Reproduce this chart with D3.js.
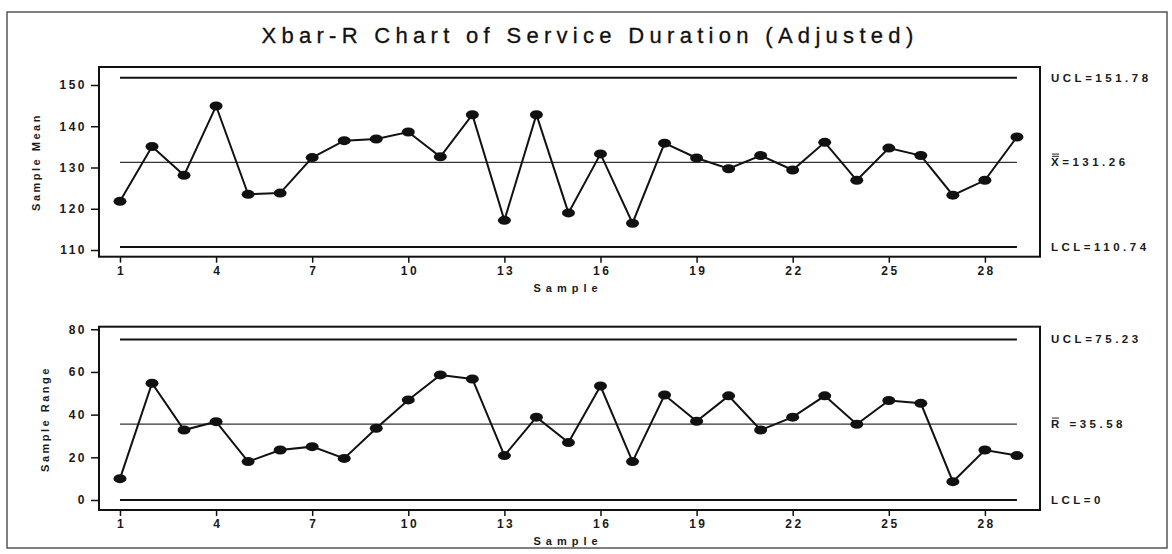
<!DOCTYPE html>
<html>
<head>
<meta charset="utf-8">
<script src="https://cdn.jsdelivr.net/npm/d3@7"></script>
<style>
  body { margin: 0; background: #fff; }
  text { font-family: "Liberation Sans", Arial, sans-serif; fill: #1a1a1a; }
  .tick text { font-size: 12px; font-weight: bold; letter-spacing: 2.5px; }
  .tick line { stroke: #111; stroke-width: 1.5; }
</style>
</head>
<body>
<div id="chart"></div>
<script>
// sample means and ranges
const sampleMeans = [121.8, 135.1, 128.1, 144.9, 123.5, 123.8, 132.4, 136.5, 136.9, 138.6,
                     132.6, 142.8, 117.2, 142.8, 119.0, 133.3, 116.5, 135.9, 132.3, 129.7,
                     132.9, 129.4, 136.1, 126.9, 134.7, 132.9, 123.3, 126.9, 137.4];
const sampleRanges = [10.0, 54.7, 32.8, 36.7, 18.0, 23.4, 25.0, 19.5, 33.6, 46.9,
                      58.6, 56.7, 20.8, 38.8, 26.9, 53.4, 18.0, 49.2, 36.9, 48.8,
                      32.8, 38.8, 48.8, 35.5, 46.6, 45.3, 8.6, 23.4, 20.8];
const xTicks = [1, 4, 7, 10, 13, 16, 19, 22, 25, 28];
const meanTicks = [110, 120, 130, 140, 150];
const rangeTicks = [0, 20, 40, 60, 80];
const meanLimits = [151.78, 131.26, 110.74];   // UCL, center, LCL
const rangeLimits = [75.23, 35.58, 0];
const meanLabels = ['UCL=151.78', 'X=131.26', 'LCL=110.74'];
const rangeLabels = ['UCL=75.23', 'R =35.58', 'LCL=0'];

const width = 1172, height = 554;
const boxLeft = 99, boxRight = 1040;

const svg = d3.select('#chart').append('svg')
    .attr('width', width)
    .attr('height', height);

// outer frame
svg.append('rect')
    .attr('x', 7).attr('y', 12)
    .attr('width', 1160).attr('height', 536)
    .attr('fill', 'none')
    .attr('stroke', '#555')
    .attr('stroke-width', 1.5);

svg.append('text')
    .attr('x', 590).attr('y', 43)
    .attr('text-anchor', 'middle')
    .style('font-size', '22px')
    .style('letter-spacing', '5.3px')
    .style('fill', '#111')
    .style('stroke', '#111').style('stroke-width', 0.3)
    .text('Xbar-R Chart of Service Duration (Adjusted)');

const x = d3.scaleLinear()
    .domain([0.345, 29.72])
    .range([boxLeft, boxRight]);

function drawPanel(opts) {
    const y = d3.scaleLinear().domain(opts.domain).range([opts.bottom, opts.top]);
    const g = svg.append('g');

    // control limit lines
    g.selectAll('.limit')
        .data(opts.limits).enter()
        .append('line')
        .attr('x1', x(1)).attr('x2', x(29))
        .attr('y1', d => y(d)).attr('y2', d => y(d))
        .attr('stroke', (d, i) => i === 1 ? '#333' : '#111')
        .attr('stroke-width', (d, i) => i === 1 ? 1.3 : 2);

    const line = d3.line()
        .x((d, i) => x(i + 1))
        .y(d => y(d));

    g.append('path')
        .datum(opts.values)
        .attr('d', line)
        .attr('fill', 'none')
        .attr('stroke', '#111')
        .attr('stroke-width', 2);

    g.selectAll('.pt')
        .data(opts.values).enter()
        .append('ellipse')
        .attr('cx', (d, i) => x(i + 1))
        .attr('cy', d => y(d))
        .attr('rx', 6.5).attr('ry', 4.5)
        .attr('fill', '#111');

    // box
    g.append('rect')
        .attr('x', boxLeft).attr('y', opts.top)
        .attr('width', boxRight - boxLeft).attr('height', opts.bottom - opts.top)
        .attr('fill', 'none')
        .attr('stroke', '#111')
        .attr('stroke-width', 2);

    const yAxis = g.append('g')
        .attr('transform', 'translate(' + boxLeft + ',0)')
        .call(d3.axisLeft(y).tickValues(opts.ticks).tickSize(8).tickPadding(4));
    yAxis.select('.domain').remove();

    const xAxis = g.append('g')
        .attr('transform', 'translate(0,' + opts.bottom + ')')
        .call(d3.axisBottom(x).tickValues(xTicks).tickSize(6).tickPadding(3.5));
    xAxis.select('.domain').remove();
    xAxis.selectAll('text').attr('dx', '1.2px');

    g.append('text')
        .attr('x', 568).attr('y', opts.bottom + 35)
        .attr('text-anchor', 'middle')
        .style('font-size', '11px').style('font-weight', 'bold')
        .style('letter-spacing', '5px')
        .text('Sample');

    g.append('text')
        .attr('transform', 'translate(' + (opts.titleX + 4) + ',' + opts.titleY + ') rotate(-90)')
        .attr('text-anchor', 'middle')
        .style('font-size', '11px').style('font-weight', 'bold')
        .style('letter-spacing', '2.5px')
        .text(opts.title);

    // limit labels on the right
    g.selectAll('.lab')
        .data(opts.labels).enter()
        .append('text')
        .attr('x', 1051)
        .attr('y', (d, i) => y(opts.limits[i]) + 4)
        .style('font-size', '11.5px').style('font-weight', 'bold')
        .style('letter-spacing', '3.5px')
        .text(d => d);

    // bars over the centre symbol
    const cy = y(opts.limits[1]) + 4;
    for (let k = 0; k < opts.bars; k++) {
        g.append('line')
            .attr('x1', 1052).attr('x2', 1059)
            .attr('y1', cy - 10 - k * 2.2).attr('y2', cy - 10 - k * 2.2)
            .attr('stroke', '#222').attr('stroke-width', 1);
    }
}

drawPanel({
    values: sampleMeans, limits: meanLimits, labels: meanLabels, ticks: meanTicks,
    domain: [108.38, 154.36], top: 67, bottom: 256.7,
    title: 'Sample Mean', titleX: 36, titleY: 162, bars: 2
});

drawPanel({
    values: sampleRanges, limits: rangeLimits, labels: rangeLabels, ticks: rangeTicks,
    domain: [-4.69, 81.2], top: 326.7, bottom: 510,
    title: 'Sample Range', titleX: 45, titleY: 419, bars: 1
});
</script>
</body>
</html>
